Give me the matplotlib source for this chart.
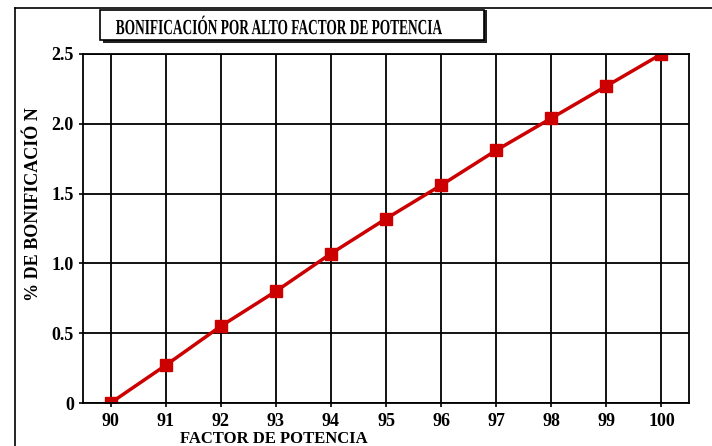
import matplotlib
matplotlib.use("Agg")
import matplotlib.pyplot as plt
from matplotlib.patches import Rectangle, PathPatch
from matplotlib.lines import Line2D
from matplotlib.textpath import TextPath
from matplotlib.font_manager import FontProperties
from matplotlib.transforms import Affine2D

# Data
factor = [90, 91, 92, 93, 94, 95, 96, 97, 98, 99, 100]
bonificacion = [0.0, 0.27, 0.55, 0.80, 1.07, 1.32, 1.56, 1.81, 2.04, 2.27, 2.50]
y_ticks = [0, 0.5, 1.0, 1.5, 2.0, 2.5]
y_tick_labels = ['0', '0.5', '1.0', '1.5', '2.0', '2.5']
title = 'BONIFICACIÓN POR ALTO FACTOR DE POTENCIA'

plt.rcParams['font.family'] = ['Liberation Serif', 'DejaVu Serif']
plt.rcParams['font.weight'] = 'bold'

W, H = 712, 446
fig = plt.figure(figsize=(W / 100, H / 100), dpi=100)

# outer frame lines (top and left)
fig.add_artist(Line2D([15 / W, 15 / W], [0, 1 - 8 / H], transform=fig.transFigure, color='black', lw=1.2))
fig.add_artist(Line2D([15 / W, 1], [1 - 8 / H, 1 - 8 / H], transform=fig.transFigure, color='black', lw=1.2))

ax = fig.add_axes([83 / W, 43 / H, 606 / W, 349 / H])
ax.plot(factor, bonificacion, color='#cc0000', lw=2.5, marker='s', markersize=8,
        markerfacecolor='#cc0000', markeredgecolor='#cc0000')
ax.set_xlim(89.5, 100.5)
ax.set_ylim(0, 2.5)
ax.set_xticks(factor)
ax.set_yticks(y_ticks)
ax.set_yticklabels(y_tick_labels)
ax.grid(True, color='black', lw=1.3)
ax.set_axisbelow(True)
for s in ax.spines.values():
    s.set_linewidth(1.3)
ax.tick_params(axis='both', labelsize=13, length=3, width=1.2)
ax.tick_params(axis='x', pad=4)
for lbl in ax.get_xticklabels() + ax.get_yticklabels():
    lbl.set_fontweight('bold')

ax.set_xlabel('FACTOR DE POTENCIA', fontsize=12, fontweight='bold', labelpad=0)
ax.xaxis.set_label_coords(0.315, -0.08)
ax.set_ylabel('% DE BONIFICACIÓ N', fontsize=13, fontweight='bold')
ax.yaxis.set_label_coords(-0.068, 0.57)

# title box with shadow
fig.add_artist(Rectangle((103 / W, 1 - 43 / H), 384 / W, 33 / H, transform=fig.transFigure,
                         facecolor='#222222', edgecolor='none'))
fig.add_artist(Rectangle((100 / W, 1 - 40 / H), 384 / W, 30 / H, transform=fig.transFigure,
                         facecolor='white', edgecolor='black', lw=1.2))

# condensed title text (drawn as a path so it can be squeezed horizontally)
fp = FontProperties(family='Liberation Serif', weight='bold')
tp = TextPath((0, 0), title, size=20, prop=fp)
bb = tp.get_extents()
sx = 326 / bb.width
sy = 1.08
cx, cy = 279, H - 25
tr = Affine2D().scale(sx, sy).translate(cx - (bb.x0 + bb.width / 2) * sx, cy - (bb.y0 + bb.height / 2) * sy)
fig.add_artist(PathPatch(tp, transform=tr, facecolor='black', edgecolor='none'))

fig.savefig('out.png', dpi=100)
